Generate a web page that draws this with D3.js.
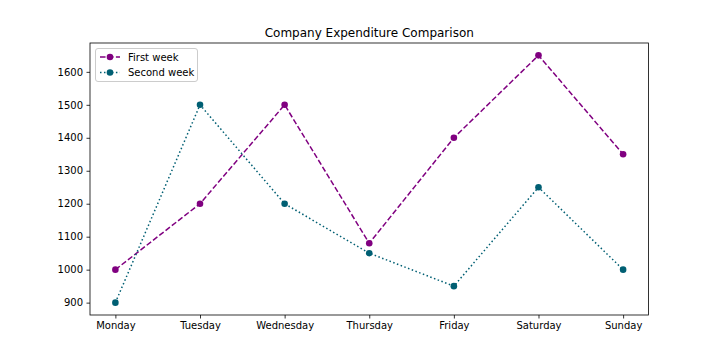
<!DOCTYPE html>
<html><head><meta charset="utf-8">
<script src="https://cdn.jsdelivr.net/npm/d3@7"></script>
<style>body{margin:0;background:#fff;} text{font-family:"DejaVu Sans",sans-serif;}</style>
</head><body><svg id="c" width="720" height="360"></svg>
<script>
const days = ["Monday","Tuesday","Wednesday","Thursday","Friday","Saturday","Sunday"];
const firstWeek = [1000,1200,1500,1080,1400,1650,1350];
const secondWeek = [900,1500,1200,1050,950,1250,1000];
const yTicks = [900,1000,1100,1200,1300,1400,1500,1600];
const seriesNames = ["First week","Second week"];

const svg = d3.select("#c");
const L=90, R=648.5, T=43, B=315;
const x = d3.scaleLinear().domain([-0.3,6.3]).range([L,R]);
const y = d3.scaleLinear().domain([862.5,1687.5]).range([B,T]);

const xa = svg.append("g").attr("transform",`translate(0,${B})`)
  .call(d3.axisBottom(x).tickValues(d3.range(days.length)).tickFormat(i=>days[i]).tickSizeOuter(0).tickSize(3.5).tickPadding(3.5));
const ya = svg.append("g").attr("transform",`translate(${L},0)`)
  .call(d3.axisLeft(y).tickValues(yTicks).tickFormat(d3.format("d")).tickSizeOuter(0).tickSize(3.5).tickPadding(3.5));
[xa,ya].forEach(a=>{
  a.select(".domain").remove();
  a.selectAll("line").attr("stroke","#000").attr("stroke-width",0.8);
  a.selectAll("text").attr("font-size",10).attr("fill","#000").attr("font-family","DejaVu Sans");
});
svg.append("rect").attr("x",L).attr("y",T).attr("width",R-L).attr("height",B-T)
  .attr("fill","none").attr("stroke","#000").attr("stroke-width",0.8);

svg.append("text").attr("x",(L+R)/2).attr("y",T-6).attr("text-anchor","middle")
  .attr("font-size",12).text("Company Expenditure Comparison");

const series = [
  {name:seriesNames[0], vals:firstWeek, color:"#800080", dash:"5.55,2.4"},
  {name:seriesNames[1], vals:secondWeek, color:"#005f73", dash:"1.5,2.475"}
];
const line = d3.line().x((d,i)=>x(i)).y(d=>y(d));
series.forEach(s=>{
  svg.append("path").attr("d",line(s.vals)).attr("fill","none")
    .attr("stroke",s.color).attr("stroke-width",1.5).attr("stroke-dasharray",s.dash);
  svg.selectAll(null).data(s.vals).enter().append("circle")
    .attr("cx",(d,i)=>x(i)).attr("cy",d=>y(d)).attr("r",3.3).attr("fill",s.color);
});

const lg = svg.append("g");
lg.append("rect").attr("x",95.5).attr("y",48.5).attr("width",102).attr("height",33).attr("rx",2.5)
  .attr("fill","#fff").attr("fill-opacity",0.8).attr("stroke","#ccc").attr("stroke-width",1);
series.forEach((s,i)=>{
  const yy = 57 + i*15.5;
  lg.append("line").attr("x1",100).attr("x2",120).attr("y1",yy).attr("y2",yy)
    .attr("stroke",s.color).attr("stroke-width",1.5).attr("stroke-dasharray",s.dash);
  lg.append("circle").attr("cx",110).attr("cy",yy).attr("r",3.3).attr("fill",s.color);
  lg.append("text").attr("x",128).attr("y",yy+3.5).attr("font-size",10).text(s.name);
});
</script></body></html>
